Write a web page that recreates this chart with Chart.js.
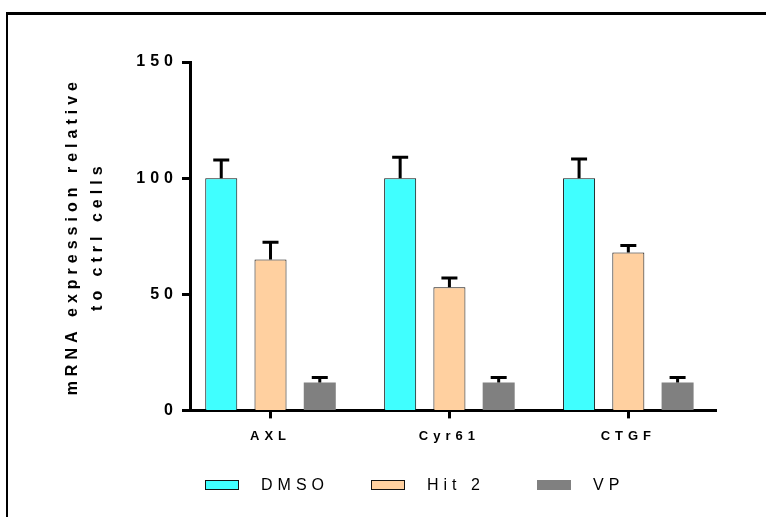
<!DOCTYPE html>
<html>
<head>
<meta charset="utf-8">
<script src="https://cdn.jsdelivr.net/npm/chart.js@4"></script>
<style>
  html, body { margin: 0; padding: 0; background: #fff; }
  #wrap { position: relative; width: 766px; height: 517px; overflow: hidden; }
  #frame { position: absolute; left: 6px; top: 12px; width: 800px; height: 600px;
           border-left: 2px solid #000; border-top: 3px solid #000; }
  canvas { position: absolute; left: 0; top: 0; }
</style>
</head>
<body>
<div id="wrap">
  <div id="frame"></div>
  <canvas id="grafico" width="766" height="517"></canvas>
</div>
<script>
// DADOS
const categories = ['AXL', 'Cyr61', 'CTGF'];
const seriesNames = ['DMSO', 'Hit 2', 'VP'];
const dmso = [100, 100, 100];
const dmsoErr = [7.8, 9, 8.2];
const hit2 = [65, 53, 68];
const hit2Err = [7.4, 4, 3];
const vp = [12, 12, 12];
const vpErr = [2.2, 2.2, 2.2];
const yTicks = [0, 50, 100, 150];

const FONT = "'Liberation Sans', Arial, sans-serif";

function pontos(vals) {
    return vals.map((v, i) => ({ x: i, y: v }));
}

// espaçamento das letras (como no GraphPad)
const espacamento = {
    id: 'espacamento',
    beforeUpdate(chart) { chart.ctx.letterSpacing = '5px'; },
    beforeLayout(chart) { chart.ctx.letterSpacing = '5px'; },
    beforeDraw(chart) { chart.ctx.letterSpacing = '5px'; }
};

// BARRAS DE ERRO
const barrasErro = {
    id: 'barrasErro',
    afterDatasetsDraw(chart) {
        const ctx = chart.ctx;
        const y = chart.scales.y;
        ctx.save();
        ctx.strokeStyle = '#000';
        ctx.lineWidth = 3;
        chart.data.datasets.forEach((ds, di) => {
            const meta = chart.getDatasetMeta(di);
            meta.data.forEach((bar, i) => {
                const topo = y.getPixelForValue(ds.data[i].y + ds.erros[i]);
                ctx.beginPath();
                ctx.moveTo(bar.x, bar.y);
                ctx.lineTo(bar.x, topo);
                ctx.moveTo(bar.x - 8, topo);
                ctx.lineTo(bar.x + 8, topo);
                ctx.stroke();
            });
        });
        ctx.restore();
    }
};

// LEGENDA
const legenda = {
    id: 'legenda',
    afterDraw(chart) {
        const ctx = chart.ctx;
        ctx.save();
        ctx.letterSpacing = '5px';
        ctx.font = '16px ' + FONT;
        ctx.textBaseline = 'middle';
        chart.data.datasets.forEach((ds, i) => {
            const x = 205 + i * 166;
            const y = 480;
            ctx.fillStyle = ds.backgroundColor;
            ctx.fillRect(x, y, 34, 10);
            if (ds.borderWidth) {
                ctx.strokeStyle = '#111';
                ctx.lineWidth = 1;
                ctx.strokeRect(x + 0.5, y + 0.5, 33, 9);
            }
            ctx.fillStyle = '#000';
            ctx.fillText(ds.label, x + 56, y + 6);
        });
        ctx.restore();
    }
};

const canvas = document.getElementById('grafico');
new Chart(canvas, {
    type: 'bar',
    data: {
        datasets: [
            { label: seriesNames[0], data: pontos(dmso), erros: dmsoErr,
              backgroundColor: '#40FFFF', borderColor: '#111', borderWidth: 1 },
            { label: seriesNames[1], data: pontos(hit2), erros: hit2Err,
              backgroundColor: '#FFD0A0', borderColor: '#111', borderWidth: 1 },
            { label: seriesNames[2], data: pontos(vp), erros: vpErr,
              backgroundColor: '#808080', borderWidth: 0 }
        ]
    },
    options: {
        responsive: false,
        animation: false,
        categoryPercentage: 0.826,
        barPercentage: 0.65,
        layout: { padding: { left: 40, right: 50, top: 62, bottom: 63 } },
        plugins: { legend: { display: false }, tooltip: { enabled: false } },
        scales: {
            x: {
                type: 'linear',
                offset: false,
                min: -0.45,
                max: 2.49,
                grid: { offset: false, drawOnChartArea: false, tickLength: 8, tickWidth: 3, tickColor: '#000' },
                border: { color: '#000', width: 3 },
                afterBuildTicks(scale) {
                    scale.ticks = categories.map((c, i) => ({ value: i }));
                },
                ticks: {
                    autoSkip: false,
                    maxRotation: 0,
                    padding: 10,
                    color: '#000',
                    font: { family: FONT, size: 13, weight: 'bold' },
                    callback: (v) => categories[v]
                }
            },
            y: {
                min: 0,
                max: 150,
                afterBuildTicks(scale) {
                    scale.ticks = yTicks.map(v => ({ value: v }));
                },
                afterFit(scale) { scale.width = 150; },
                grid: { drawOnChartArea: false, tickLength: 8, tickWidth: 3, tickColor: '#000' },
                border: { color: '#000', width: 3 },
                ticks: {
                    padding: 4,
                    color: '#000',
                    font: { family: FONT, size: 16, weight: 'bold' }
                },
                title: {
                    display: true,
                    text: ['mRNA expression relative', 'to ctrl cells'],
                    color: '#000',
                    padding: { top: 20, bottom: 0 },
                    font: { family: FONT, size: 16, weight: 'bold', lineHeight: 1.55 }
                }
            }
        }
    },
    plugins: [espacamento, barrasErro, legenda]
});
</script>
</body>
</html>
